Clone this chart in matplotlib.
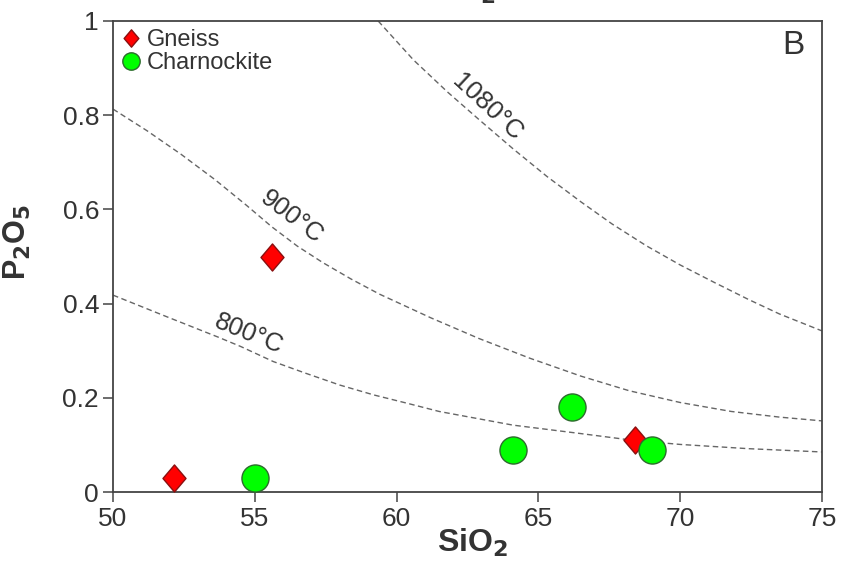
import matplotlib
matplotlib.use("Agg")
import matplotlib.pyplot as plt
from matplotlib.path import Path

plt.rcParams['font.family'] = ['Liberation Sans', 'DejaVu Sans']

# ---------------- data ----------------
gneiss_sio2 = [52.15, 55.6, 68.4]
gneiss_p2o5 = [0.03, 0.50, 0.11]

charn_sio2 = [55.0, 64.1, 66.2, 69.0]
charn_p2o5 = [0.03, 0.09, 0.18, 0.09]

curve_800_x = [50.0, 51.9, 53.7, 54.5, 55.65, 56.8, 58.0, 59.2, 60.4, 61.5, 64.1, 66.5,
               68.3, 70.0, 72.4, 75.0]
curve_800_y = [0.418, 0.372, 0.329, 0.309, 0.277, 0.252, 0.227, 0.206, 0.188, 0.171, 0.142,
               0.124, 0.110, 0.101, 0.092, 0.085]

curve_900_x = [50.0, 51.2, 52.4, 53.6, 54.7, 55.6, 56.5, 57.4, 58.4, 59.4, 61.2, 62.9, 64.7,
               66.5, 68.2, 70.0, 71.8, 73.5, 75.0]
curve_900_y = [0.813, 0.767, 0.717, 0.663, 0.609, 0.563, 0.522, 0.487, 0.452, 0.420, 0.370,
               0.326, 0.284, 0.246, 0.215, 0.190, 0.171, 0.159, 0.151]

curve_1080_x = [59.35, 60.6, 61.8, 62.9, 64.1, 65.3, 66.5, 67.6, 68.8, 70.0, 71.2, 72.4, 73.5, 75.0]
curve_1080_y = [1.0, 0.917, 0.849, 0.791, 0.729, 0.670, 0.616, 0.569, 0.523, 0.482, 0.445,
                0.409, 0.378, 0.342]

curve_labels = ["800°C", "900°C", "1080°C"]
label_pos = [(54.8, 0.335, -22), (56.3, 0.583, -37), (63.2, 0.817, -43)]

x_ticks = [50, 55, 60, 65, 70, 75]
y_ticks = [0, 0.2, 0.4, 0.6, 0.8, 1]
y_tick_labels = ["0", "0.2", "0.4", "0.6", "0.8", "1"]

# ---------------- figure ----------------
fig = plt.figure(figsize=(8.43, 5.73), dpi=100)
ax = fig.add_axes([113 / 843, 1 - 492 / 573, (822 - 113) / 843, (492 - 21) / 573])

txt = '#333333'
spine_c = '#444444'

for cx, cy in [(curve_800_x, curve_800_y), (curve_900_x, curve_900_y),
               (curve_1080_x, curve_1080_y)]:
    ax.plot(cx, cy, color='#666666', lw=1.0, ls=(0, (4, 2.5)), zorder=2)

for lab, (lx, ly, rot) in zip(curve_labels, label_pos):
    ax.text(lx, ly, lab, rotation=rot, rotation_mode='anchor', ha='center', va='center',
            fontsize=18.5, color=txt, zorder=3)

diamond = Path([(0, 1), (0.85, 0), (0, -1), (-0.85, 0), (0, 1)],
               [Path.MOVETO, Path.LINETO, Path.LINETO, Path.LINETO, Path.CLOSEPOLY])

ax.plot(gneiss_sio2, gneiss_p2o5, ls='none', marker=diamond, ms=19.5,
        mfc='#ff0000', mec='#8a1010', mew=1.0, label='Gneiss', zorder=4)
ax.plot(charn_sio2, charn_p2o5, ls='none', marker='o', ms=19.5,
        mfc='#00ff00', mec='#2d6b2d', mew=1.0, label='Charnockite', zorder=5)

leg = ax.legend(loc='upper left', frameon=False, fontsize=17, handlelength=0.8,
                handletextpad=0.3, labelspacing=0.05, borderaxespad=0.1,
                borderpad=0.25)
for h, ms in zip(leg.legend_handles, [12.5, 12.5]):
    h.set_markersize(ms)
for t in leg.get_texts():
    t.set_color(txt)

ax.text(0.96, 0.948, 'B', transform=ax.transAxes, ha='center', va='center',
        fontsize=24, color=txt)

ax.set_xlim(50, 75)
ax.set_ylim(0, 1)
ax.set_xticks(x_ticks)
ax.set_yticks(y_ticks)
ax.set_yticklabels(y_tick_labels)
ax.tick_params(direction='out', length=7, width=1.1, colors=spine_c, labelcolor=txt,
               labelsize=19, pad=3)
ax.tick_params(axis='x', pad=4)
for s in ax.spines.values():
    s.set_color(spine_c)
    s.set_linewidth(1.3)

ax.set_xlabel('SiO$_\\mathbf{2}$', fontsize=23, fontweight='bold', color=txt, labelpad=0)
ax.set_ylabel('P$_\\mathbf{2}$O$_\\mathbf{5}$', fontsize=22, fontweight='bold', color=txt,
              labelpad=4)
ax.xaxis.set_label_coords((473 - 113) / (822 - 113), -(527 - 492) / (492 - 21))
ax.yaxis.set_label_coords(-(113 - 33) / (822 - 113), (492 - 242) / (492 - 21))

# cut-off label of the panel above (the reference shows only its lower edge)
fig.text(462 / 843, 1 + 1.5 / 573, 'SiO$_\\mathbf{2}$', ha='center', va='baseline',
         fontsize=22, fontweight='bold', color=txt)

fig.savefig('out.png', dpi=100)
